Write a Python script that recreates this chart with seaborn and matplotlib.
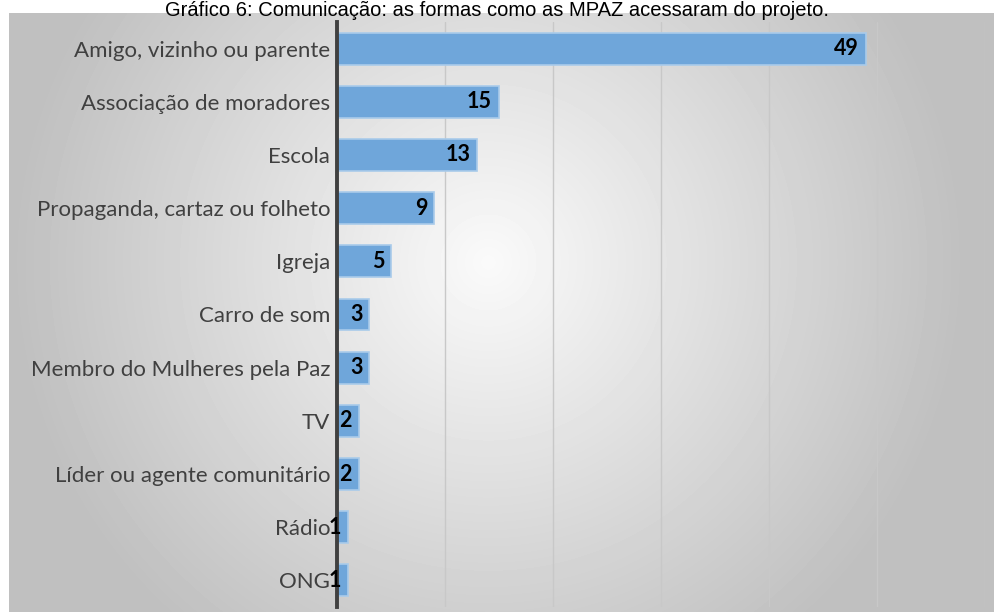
import numpy as np
import pandas as pd
import matplotlib.pyplot as plt
import seaborn as sns

categories = ["Amigo, vizinho ou parente", "Associação de moradores", "Escola",
              "Propaganda, cartaz ou folheto", "Igreja", "Carro de som",
              "Membro do Mulheres pela Paz", "TV", "Líder ou agente comunitário",
              "Rádio", "ONG"]
counts = [49, 15, 13, 9, 5, 3, 3, 2, 2, 1, 1]
title = "Gráfico 6: Comunicação: as formas como as MPAZ acessaram do projeto."

df = pd.DataFrame({"Forma": categories, "Total": counts})

sns.set_theme(style="white")
plt.rcParams['font.family'] = ['Lato', 'DejaVu Sans']

W, H = 995, 612
fig = plt.figure(figsize=(W / 100, H / 100), dpi=100)

# gray radial background (flat gray outside the circle)
bg = fig.add_axes([9 / W, 0, 1 - 9 / W, 1 - 13 / H])
py, px = np.mgrid[13:612, 9:995]
t = np.sqrt((px - 488) ** 2 + (py - 262) ** 2) / 473
shade = np.clip(0.98 - (0.98 - 0.753) * t, 0.753, 0.98)
bg.imshow(shade, cmap="gray", vmin=0, vmax=1, aspect="auto")
bg.axis("off")

ax = fig.add_axes([337 / W, 5 / H, 648 / W, 585 / H])
ax.patch.set_alpha(0)
sns.barplot(data=df, x="Total", y="Forma", orient="h", color="#6FA6DA",
            edgecolor="#A9CBEA", linewidth=1.2, width=0.6, saturation=1, ax=ax)
ax.set_xlim(0, 60)
ax.set_xticks(range(0, 61, 10))
ax.xaxis.grid(True, color="#C8C8C8", linewidth=1)
ax.set_axisbelow(True)
ax.set_xticklabels([])
ax.tick_params(axis="x", length=0)
ax.tick_params(axis="y", length=0, labelsize=16, labelcolor="#404040", pad=5)
ax.set_xlabel("")
ax.set_ylabel("")
for s in ["top", "right", "bottom"]:
    ax.spines[s].set_visible(False)
ax.spines["left"].set_color("#404040")
ax.spines["left"].set_linewidth(2.8)

for i, v in enumerate(counts):
    ax.annotate(str(v), (v, i), xytext=(-5, 0), textcoords="offset points",
                ha="right", va="center", fontsize=15.5, fontweight="bold",
                color="black")

# title sits just above the gray panel
fig.text(0.5, 1 - 15.5 / H, title, ha="center", va="baseline", fontsize=14.5,
         family="Liberation Sans", color="black", zorder=5)

plt.savefig("out.png", dpi=100)
plt.close()
